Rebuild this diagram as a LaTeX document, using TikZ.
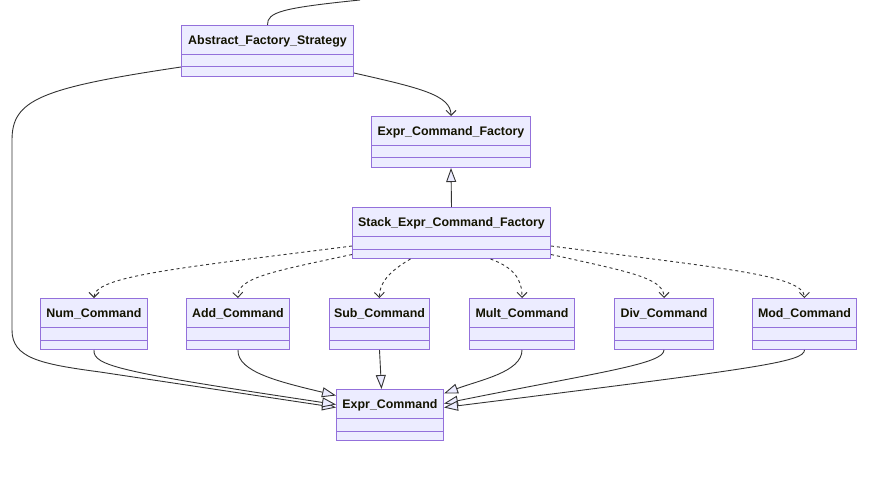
\documentclass[tikz,border=0pt]{standalone}
\usepackage{fontspec}
\setmainfont{Liberation Sans}
\usepackage{tikz}
\usetikzlibrary{arrows.meta,calc,positioning}
\usepackage{xcolor}

\definecolor{umlfill}{HTML}{ECECFF}
\definecolor{umlborder}{HTML}{9370DB}
\definecolor{umlline}{HTML}{333333}
\definecolor{umltext}{HTML}{131300}

% class box: name, left, top, width, title
\newcommand{\umlclass}[5]{%
  \node[classbox, minimum width=#4pt] (#1) at (#2,#3) {};
  \node[classname] (#1-name) at ([yshift=-16pt]#1.north) {#5};
  \draw[umlborder, line width=1pt] ([yshift=-29.5pt]#1.north west) -- ([yshift=-29.5pt]#1.north east);
  \draw[umlborder, line width=1pt] ([yshift=-42pt]#1.north west) -- ([yshift=-42pt]#1.north east);
}

\begin{document}
\begin{tikzpicture}[x=1pt,y=-1pt,
    classbox/.style={draw=umlborder,fill=umlfill,line width=1pt,anchor=north west,
                     minimum height=51pt,inner sep=0pt},
    classname/.style={font=\bfseries\fontsize{12.4}{14}\selectfont,text=umltext,inner sep=0pt},
    extends/.style={draw=umlline,line width=0.9pt,-{Triangle[length=14pt,width=10pt,fill=umlfill]}},
    assoc/.style={draw=umlline,line width=0.9pt,-{Straight Barb[length=5pt,width=10pt]}},
    depends/.style={draw=umlline,line width=0.9pt,dash pattern=on 3pt off 3pt,
                    -{Straight Barb[length=5pt,width=10pt]}}]
  \useasboundingbox (0,0) rectangle (873,492);

  % Nodes
  \umlclass{afs}{181}{25}{172}{Abstract\_Factory\_Strategy}
  \umlclass{ecf}{371}{116}{159}{Expr\_Command\_Factory}
  \umlclass{sec}{352}{207}{198}{Stack\_Expr\_Command\_Factory}
  \umlclass{num}{40}{298}{107}{Num\_Command}
  \umlclass{add}{186}{298}{103}{Add\_Command}
  \umlclass{sub}{329}{298}{100}{Sub\_Command}
  \umlclass{mult}{469}{298}{105}{Mult\_Command}
  \umlclass{div}{614}{298}{99}{Div\_Command}
  \umlclass{mod}{752}{298}{104}{Mod\_Command}
  \umlclass{ec}{336}{389}{107}{Expr\_Command}
  \coordinate (top) at (360,0);

  % Edges
  \draw[umlline,line width=0.9pt] (afs.north) .. controls (267,12) and (282,8) .. (top);
  \draw[assoc] ([yshift=4pt]afs.south east) .. controls (420,88) and (451,95) .. (ecf.north);
  \draw[extends] (sec.north) -- (ecf.south);

  \draw[depends] ([yshift=-13pt]sec.west) .. controls (180,268) and (94,276) .. (num.north);
  \draw[depends] ([yshift=-21.5pt]sec.west) .. controls (270,272) and (237,278) .. (add.north);
  \draw[depends] ([xshift=-41pt]sec.south) .. controls (395,268) and (379,280) .. (sub.north);
  \draw[depends] ([xshift=39pt]sec.south) .. controls (515,268) and (522,280) .. (mult.north);
  \draw[depends] ([yshift=-21.5pt]sec.east) .. controls (630,272) and (664,278) .. (div.north);
  \draw[depends] ([yshift=-13pt]sec.east) .. controls (720,268) and (804,275) .. (mod.north);

  \draw[extends] ([yshift=10pt]afs.south west) .. controls (40,88) and (12,100) .. (12,140)
    -- (12,330) .. controls (12,358) and (40,364) .. (100,372) -- ([yshift=7.5pt]ec.west);
  \draw[extends] (num.south) .. controls (93,366) and (120,372) .. ([yshift=10.5pt]ec.west);
  \draw[extends] (add.south) .. controls (237,372) and (280,382) .. ([yshift=19.5pt]ec.west);
  \draw[extends] (sub.south) -- ([xshift=-8.5pt]ec.north);
  \draw[extends] (mult.south) .. controls (522,372) and (480,380) .. ([yshift=21.5pt]ec.east);
  \draw[extends] (div.south) .. controls (664,364) and (600,372) .. ([yshift=11.5pt]ec.east);
  \draw[extends] (mod.south) .. controls (804,362) and (760,368) .. ([yshift=7.5pt]ec.east);
\end{tikzpicture}
\end{document}
